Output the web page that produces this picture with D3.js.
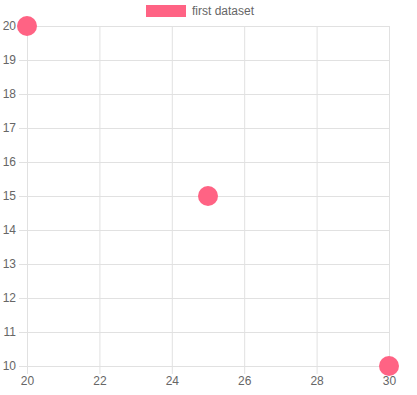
<!DOCTYPE html>
<html>
<head>
<meta charset="utf-8">
<script src="https://cdn.jsdelivr.net/npm/d3@7"></script>
<style>
  body { margin: 0; background: #fff; }
  text { font-family: "Liberation Sans", Arial, Helvetica, sans-serif; }
</style>
</head>
<body>
<div id="chart"></div>
<script>
// datos del grafico
const seriesName = "first dataset";
const xValues = [20, 25, 30];
const yValues = [20, 15, 10];
const xTicks = [20, 22, 24, 26, 28, 30];
const yTicks = [10, 11, 12, 13, 14, 15, 16, 17, 18, 19, 20];

const width = 417;
const height = 395;
const margin = { top: 26, right: 28, bottom: 29, left: 27 };
const pink = "#ff6384";
const grid = "#e1e1e1";
const textColor = "#666";

const svg = d3.select("#chart").append("svg")
    .attr("width", width)
    .attr("height", height);

const x = d3.scaleLinear().domain([20, 30]).range([margin.left, width - margin.right]);
const y = d3.scaleLinear().domain([10, 20]).range([height - margin.bottom, margin.top]);

// rejilla
const gridGroup = svg.append("g").attr("id", "grid");
gridGroup.selectAll("line.v").data(xTicks).enter().append("line")
    .attr("x1", d => x(d) + 0.5).attr("x2", d => x(d) + 0.5)
    .attr("y1", margin.top).attr("y2", height - margin.bottom + 8)
    .attr("stroke", grid);
gridGroup.selectAll("line.h").data(yTicks).enter().append("line")
    .attr("y1", d => Math.round(y(d)) + 0.5).attr("y2", d => Math.round(y(d)) + 0.5)
    .attr("x1", margin.left - 8).attr("x2", width - margin.right)
    .attr("stroke", grid);

// ejes
const yAxis = d3.axisLeft(y).tickValues(yTicks).tickSize(0).tickPadding(11);
const xAxis = d3.axisBottom(x).tickValues(xTicks).tickSize(0).tickPadding(10);
const yAxisGroup = svg.append("g").attr("transform", `translate(${margin.left}, 0)`).call(yAxis);
const xAxisGroup = svg.append("g").attr("transform", `translate(0, ${height - margin.bottom})`).call(xAxis);
[yAxisGroup, xAxisGroup].forEach(g => {
    g.select(".domain").remove();
    g.attr("fill", textColor);
    g.selectAll("text").attr("fill", textColor).style("font-size", "12px")
        .style("font-family", '"Liberation Sans", Arial, sans-serif');
});

// puntos
const data = xValues.map((v, i) => ({ x: v, y: yValues[i] }));
svg.append("g").selectAll("circle").data(data).enter().append("circle")
    .attr("cx", d => x(d.x))
    .attr("cy", d => y(d.y))
    .attr("r", 10)
    .attr("fill", pink);

// leyenda
const legend = svg.append("g");
legend.append("rect")
    .attr("x", 146).attr("y", 5).attr("width", 40).attr("height", 12)
    .attr("fill", pink);
legend.append("text")
    .attr("x", 192).attr("y", 15)
    .attr("fill", textColor)
    .style("font-size", "12px")
    .text(seriesName);
</script>
</body>
</html>
